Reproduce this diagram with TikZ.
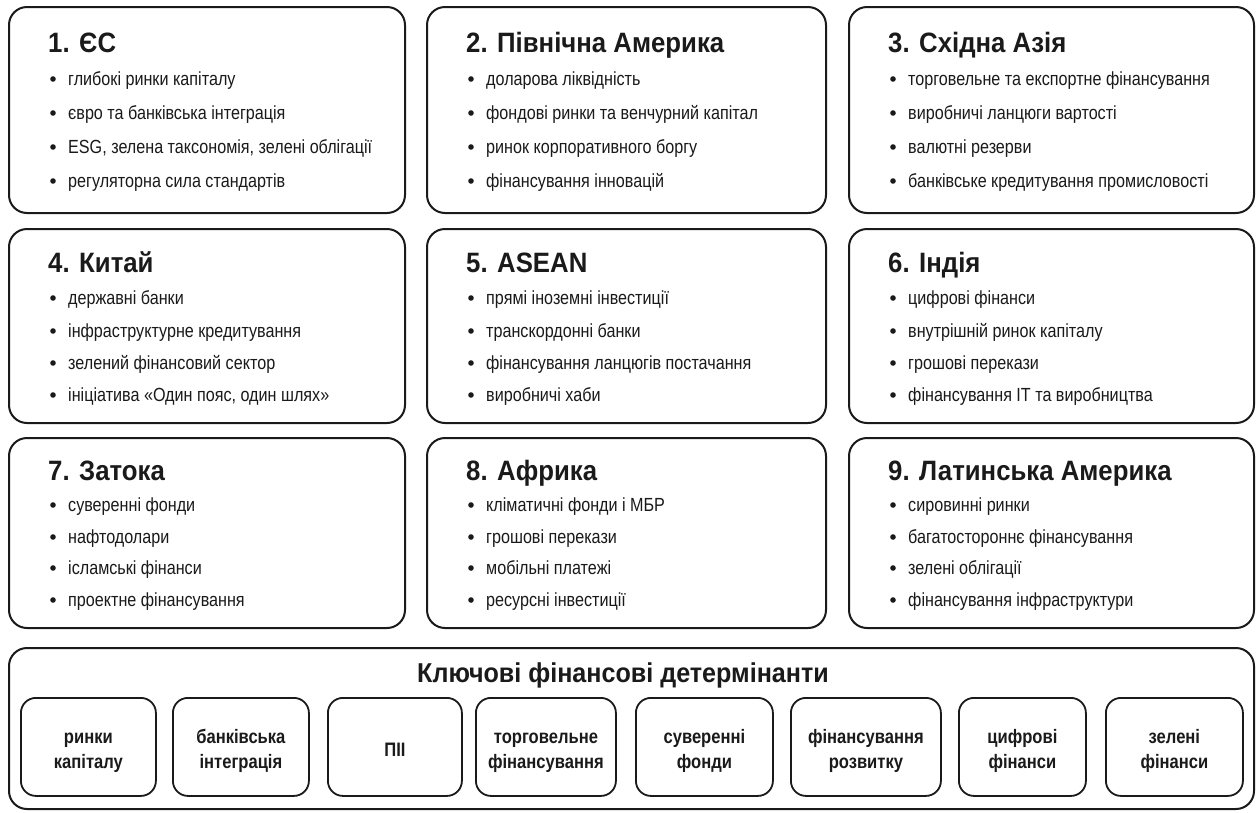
\documentclass[tikz,border=0pt]{standalone}
\usepackage{fontspec}
\setmainfont{Liberation Sans}[FakeStretch=0.85]
\newfontfamily\ttlfont{Liberation Sans}[FakeStretch=0.92]
\definecolor{ink}{HTML}{1A1A1A}
\tikzset{
  bigbox/.style={draw=ink, line width=2pt, rounded corners=18pt, inner sep=0pt, anchor=north west},
  smallbox/.style={draw=ink, line width=1.8pt, rounded corners=15pt, inner sep=0pt, anchor=north west,
     minimum height=98pt},
  ttl/.style={font=\ttlfont\fontsize{28}{30}\selectfont\bfseries, text=ink, inner sep=0pt, anchor=base west},
  itm/.style={font=\fontsize{19}{20}\selectfont, text=ink, inner sep=0pt, anchor=base west},
  hdr/.style={font=\ttlfont\fontsize{27.3}{30}\selectfont\bfseries, text=ink, inner sep=0pt, anchor=base},
  dtxt/.style={font=\fontsize{19.5}{25.5}\selectfont\bfseries, text=ink, align=center, inner sep=0pt, anchor=north},
}
\newcommand{\region}[7]{%
  \node[ttl] (#1t) at (#2+40,\rowT) {#3};
  \fill[ink] (#2+45,\rowA-6) circle (2.8pt); \node[itm] (#1a) at (#2+60,\rowA) {#4};
  \fill[ink] (#2+45,\rowB-6) circle (2.8pt); \node[itm] (#1b) at (#2+60,\rowB) {#5};
  \fill[ink] (#2+45,\rowC-6) circle (2.8pt); \node[itm] (#1c) at (#2+60,\rowC) {#6};
  \fill[ink] (#2+45,\rowD-6) circle (2.8pt); \node[itm] (#1d) at (#2+60,\rowD) {#7};
}
\begin{document}
\begin{tikzpicture}[x=1pt,y=-1pt]
\useasboundingbox (0,0) rectangle (1259,812);
\fill[white] (0,0) rectangle (1259,812);

% ---- row 1
\node[bigbox, minimum width=396pt, minimum height=206pt] (b1) at (8,6) {};
\node[bigbox, minimum width=399pt, minimum height=206pt] (b2) at (426,6) {};
\node[bigbox, minimum width=405pt, minimum height=206pt] (b3) at (848,6) {};
\def\rowT{52}\def\rowA{85}\def\rowB{119}\def\rowC{153}\def\rowD{187}
\region{r1}{8}{1. ЄС}{глибокі ринки капіталу}{євро та банківська інтеграція}{ESG, зелена таксономія, зелені облігації}{регуляторна сила стандартів}
\region{r2}{426}{2. Північна Америка}{доларова ліквідність}{фондові ринки та венчурний капітал}{ринок корпоративного боргу}{фінансування інновацій}
\region{r3}{848}{3. Східна Азія}{торговельне та експортне фінансування}{виробничі ланцюги вартості}{валютні резерви}{банківське кредитування промисловості}

% ---- row 2
\node[bigbox, minimum width=396pt, minimum height=194pt] (b4) at (8,228) {};
\node[bigbox, minimum width=399pt, minimum height=194pt] (b5) at (426,228) {};
\node[bigbox, minimum width=405pt, minimum height=194pt] (b6) at (848,228) {};
\def\rowT{272}\def\rowA{304}\def\rowB{337}\def\rowC{369}\def\rowD{401}
\region{r4}{8}{4. Китай}{державні банки}{інфраструктурне кредитування}{зелений фінансовий сектор}{ініціатива «Один пояс, один шлях»}
\region{r5}{426}{5. ASEAN}{прямі іноземні інвестиції}{транскордонні банки}{фінансування ланцюгів постачання}{виробничі хаби}
\region{r6}{848}{6. Індія}{цифрові фінанси}{внутрішній ринок капіталу}{грошові перекази}{фінансування IT та виробництва}

% ---- row 3
\node[bigbox, minimum width=396pt, minimum height=190pt] (b7) at (8,437) {};
\node[bigbox, minimum width=399pt, minimum height=190pt] (b8) at (426,437) {};
\node[bigbox, minimum width=405pt, minimum height=190pt] (b9) at (848,437) {};
\def\rowT{480}\def\rowA{511}\def\rowB{543}\def\rowC{574}\def\rowD{606}
\region{r7}{8}{7. Затока}{суверенні фонди}{нафтодолари}{ісламські фінанси}{проектне фінансування}
\region{r8}{426}{8. Африка}{кліматичні фонди і МБР}{грошові перекази}{мобільні платежі}{ресурсні інвестиції}
\region{r9}{848}{9. Латинська Америка}{сировинні ринки}{багатостороннє фінансування}{зелені облігації}{фінансування інфраструктури}

% ---- determinants
\node[bigbox, minimum width=1245pt, minimum height=161pt] (det) at (8,647) {};
\node[hdr] (dethdr) at (623,682) {Ключові фінансові детермінанти};
\node[smallbox, minimum width=135pt] (d1) at (20,697) {};
\node[smallbox, minimum width=136pt] (d2) at (172,697) {};
\node[smallbox, minimum width=134pt] (d3) at (327,697) {};
\node[smallbox, minimum width=140pt] (d4) at (475,697) {};
\node[smallbox, minimum width=137pt] (d5) at (635,697) {};
\node[smallbox, minimum width=150pt] (d6) at (790,697) {};
\node[smallbox, minimum width=127pt] (d7) at (958,697) {};
\node[smallbox, minimum width=137pt] (d8) at (1105,697) {};
\node[dtxt] (t1) at (d1.center |- 0,725) {\strut ринки\\капіталу};
\node[dtxt] (t2) at (d2.center |- 0,725) {\strut банківська\\інтеграція};
\node[dtxt] (t3) at (d3.center |- 0,738) {\strut ПІІ};
\node[dtxt] (t4) at (d4.center |- 0,725) {\strut торговельне\\фінансування};
\node[dtxt] (t5) at (d5.center |- 0,725) {\strut суверенні\\фонди};
\node[dtxt] (t6) at (d6.center |- 0,725) {\strut фінансування\\розвитку};
\node[dtxt] (t7) at (d7.center |- 0,725) {\strut цифрові\\фінанси};
\node[dtxt] (t8) at (d8.center |- 0,725) {\strut зелені\\фінанси};
\end{tikzpicture}
\end{document}
